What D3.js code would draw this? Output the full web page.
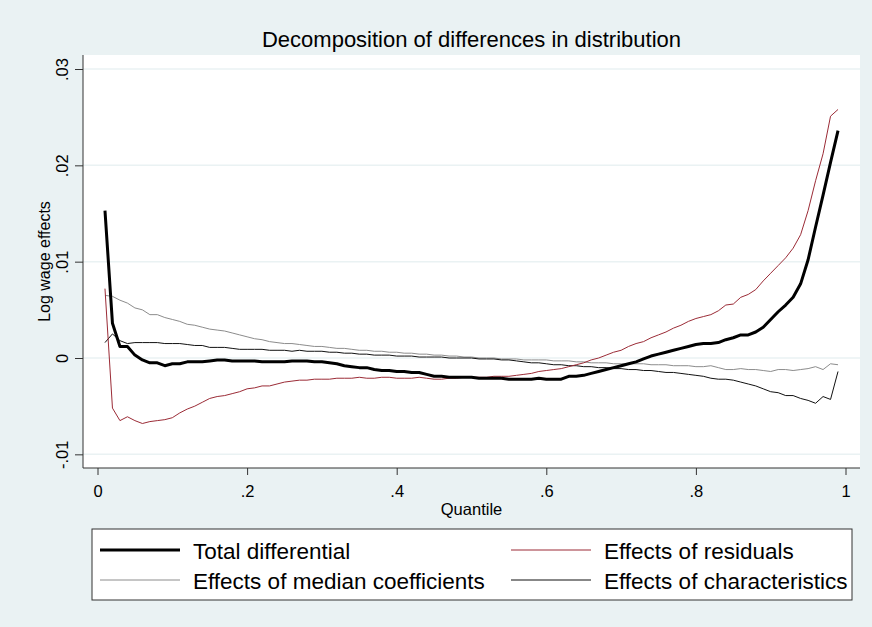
<!DOCTYPE html>
<html>
<head>
<meta charset="utf-8">
<script src="https://cdn.jsdelivr.net/npm/d3@7"></script>
<style>
  body { margin: 0; background: #EAF2F3; }
  text { font-family: Arial, "Liberation Sans", sans-serif; fill: #000; }
</style>
</head>
<body>
<svg id="chart" width="872" height="627"></svg>
<script>
// quantiles .01 ... .99
const quantiles = d3.range(1, 100).map(i => i / 100);

const totalDiff = [
  0.0153, 0.0036, 0.0012, 0.0012, 0.0003, -0.0002, -0.0005, -0.0005, -0.0008, -0.0006,
  -0.0006, -0.0004, -0.0004, -0.0004, -0.0003, -0.0002, -0.0002, -0.0003, -0.0003, -0.0003,
  -0.0003, -0.0004, -0.0004, -0.0004, -0.0004, -0.0003, -0.0003, -0.0003, -0.0004, -0.0004,
  -0.0005, -0.0006, -0.0008, -0.0009, -0.0010, -0.0010, -0.0012, -0.0013, -0.0013, -0.0014,
  -0.0014, -0.0015, -0.0015, -0.0017, -0.0019, -0.0019, -0.0020, -0.0020, -0.0020, -0.0020,
  -0.0021, -0.0021, -0.0021, -0.0021, -0.0022, -0.0022, -0.0022, -0.0022, -0.0021, -0.0022,
  -0.0022, -0.0022, -0.0019, -0.0019, -0.0018, -0.0016, -0.0014, -0.0012, -0.0010, -0.0008,
  -0.0006, -0.0004, -0.0001, 0.0002, 0.0004, 0.0006, 0.0008, 0.0010, 0.0012, 0.0014,
  0.0015, 0.0015, 0.0016, 0.0019, 0.0021, 0.0024, 0.0024, 0.0027, 0.0032, 0.0040,
  0.0048, 0.0055, 0.0063, 0.0077, 0.0102, 0.0136, 0.0169, 0.0203, 0.0236
];

const residuals = [
  0.0072, -0.0052, -0.0065, -0.0061, -0.0065, -0.0068, -0.0066, -0.0065, -0.0064, -0.0062,
  -0.0057, -0.0053, -0.0050, -0.0046, -0.0042, -0.0040, -0.0039, -0.0037, -0.0035, -0.0032,
  -0.0031, -0.0029, -0.0029, -0.0027, -0.0025, -0.0024, -0.0023, -0.0023, -0.0022, -0.0022,
  -0.0022, -0.0021, -0.0021, -0.0021, -0.0020, -0.0021, -0.0021, -0.0020, -0.0020, -0.0021,
  -0.0021, -0.0021, -0.0020, -0.0021, -0.0022, -0.0022, -0.0021, -0.0021, -0.0020, -0.0020,
  -0.0020, -0.0020, -0.0019, -0.0019, -0.0019, -0.0018, -0.0017, -0.0016, -0.0014, -0.0013,
  -0.0012, -0.0011, -0.0009, -0.0007, -0.0005, -0.0002, 0.0000, 0.0003, 0.0006, 0.0008,
  0.0012, 0.0015, 0.0017, 0.0021, 0.0024, 0.0027, 0.0031, 0.0034, 0.0038, 0.0041,
  0.0043, 0.0045, 0.0049, 0.0055, 0.0056, 0.0063, 0.0066, 0.0071, 0.0080, 0.0088,
  0.0096, 0.0104, 0.0114, 0.0128, 0.0153, 0.0184, 0.0212, 0.0251, 0.0258
];

const medianCoef = [
  0.0065, 0.0064, 0.0060, 0.0057, 0.0052, 0.0050, 0.0045, 0.0045, 0.0042, 0.0040,
  0.0038, 0.0035, 0.0034, 0.0032, 0.0030, 0.0029, 0.0028, 0.0026, 0.0024, 0.0022,
  0.0020, 0.0019, 0.0017, 0.0016, 0.0015, 0.0015, 0.0014, 0.0013, 0.0012, 0.0012,
  0.0011, 0.0010, 0.0010, 0.0009, 0.0008, 0.0008, 0.0007, 0.0007, 0.0006, 0.0006,
  0.0005, 0.0005, 0.0004, 0.0004, 0.0003, 0.0003, 0.0002, 0.0002, 0.0001, 0.0001,
  0.0000, 0.0000, 0.0000, -0.0001, -0.0001, -0.0001, -0.0002, -0.0002, -0.0002, -0.0002,
  -0.0003, -0.0003, -0.0003, -0.0004, -0.0004, -0.0005, -0.0005, -0.0005, -0.0006, -0.0006,
  -0.0006, -0.0006, -0.0006, -0.0007, -0.0007, -0.0007, -0.0008, -0.0008, -0.0008, -0.0009,
  -0.0009, -0.0008, -0.0010, -0.0012, -0.0012, -0.0011, -0.0012, -0.0012, -0.0013, -0.0014,
  -0.0012, -0.0012, -0.0013, -0.0012, -0.0011, -0.0009, -0.0012, -0.0006, -0.0007
];

const characteristics = [
  0.0016, 0.0025, 0.0018, 0.0015, 0.0016, 0.0016, 0.0016, 0.0016, 0.0015, 0.0015,
  0.0015, 0.0014, 0.0013, 0.0013, 0.0011, 0.0011, 0.0011, 0.0010, 0.0009, 0.0009,
  0.0009, 0.0009, 0.0008, 0.0008, 0.0008, 0.0007, 0.0008, 0.0007, 0.0007, 0.0007,
  0.0006, 0.0006, 0.0005, 0.0005, 0.0004, 0.0004, 0.0003, 0.0003, 0.0003, 0.0002,
  0.0002, 0.0002, 0.0001, 0.0001, 0.0001, 0.0001, 0.0000, 0.0000, 0.0000, 0.0000,
  -0.0001, -0.0001, -0.0001, -0.0002, -0.0002, -0.0003, -0.0004, -0.0005, -0.0005, -0.0006,
  -0.0007, -0.0007, -0.0008, -0.0008, -0.0009, -0.0009, -0.0010, -0.0010, -0.0011, -0.0011,
  -0.0012, -0.0012, -0.0013, -0.0013, -0.0014, -0.0015, -0.0015, -0.0016, -0.0017, -0.0018,
  -0.0019, -0.0021, -0.0022, -0.0022, -0.0023, -0.0025, -0.0027, -0.0029, -0.0032, -0.0035,
  -0.0036, -0.0039, -0.0039, -0.0042, -0.0044, -0.0047, -0.0040, -0.0043, -0.0014
];

const xTicks = [0, 0.2, 0.4, 0.6, 0.8, 1];
const yTicks = [-0.01, 0, 0.01, 0.02, 0.03];
const yTickLabels = ["-.01", "0", ".01", ".02", ".03"];
const xTickLabels = ["0", ".2", ".4", ".6", ".8", "1"];

const series = [
  { name: "Total differential", values: totalDiff, color: "#000000", width: 3 },
  { name: "Effects of residuals", values: residuals, color: "#9B2B36", width: 1 },
  { name: "Effects of median coefficients", values: medianCoef, color: "#8C8C8C", width: 1 },
  { name: "Effects of characteristics", values: characteristics, color: "#111111", width: 1 }
];

const svg = d3.select("#chart");
const W = 872, H = 627;
const plot = { left: 83, top: 55, right: 860, bottom: 468 };

svg.append("rect").attr("width", W).attr("height", H).attr("fill", "#EAF2F3");
svg.append("rect")
  .attr("x", plot.left).attr("y", plot.top)
  .attr("width", plot.right - plot.left).attr("height", plot.bottom - plot.top)
  .attr("fill", "#fff");

const x = d3.scaleLinear().domain([0, 1]).range([97.5, 845.5]);
const y = d3.scaleLinear().domain([0, 0.03]).range([358, 69]);

// gridlines
svg.append("g")
  .selectAll("line")
  .data(yTicks)
  .join("line")
    .attr("x1", plot.left).attr("x2", plot.right)
    .attr("y1", d => y(d)).attr("y2", d => y(d))
    .attr("stroke", "#EAF2F3").attr("stroke-width", 1.5);

// y axis, labels turned like stata does
const yAxis = svg.append("g")
  .attr("transform", `translate(${plot.left},0)`)
  .call(d3.axisLeft(y).tickValues(yTicks).tickSize(8)
    .tickFormat((d, i) => yTickLabels[i]));
yAxis.select(".domain").attr("d", `M0,${plot.top}V${plot.bottom}`).attr("stroke", "#333");
yAxis.selectAll(".tick line").attr("stroke", "#333");
yAxis.selectAll(".tick text")
  .attr("font-size", 16.5)
  .attr("transform", "rotate(-90)")
  .attr("x", 0).attr("y", -15)
  .attr("dy", 0)
  .attr("text-anchor", "middle")
  .attr("fill", "#000");

// x axis
const xAxis = svg.append("g")
  .attr("transform", `translate(0,${plot.bottom})`)
  .call(d3.axisBottom(x).tickValues(xTicks).tickSize(7)
    .tickFormat((d, i) => xTickLabels[i]));
xAxis.select(".domain").attr("d", `M${plot.left},0H${plot.right}`).attr("stroke", "#333");
xAxis.selectAll(".tick line").attr("stroke", "#333");
xAxis.selectAll(".tick text")
  .attr("font-size", 16.5).attr("fill", "#000")
  .attr("y", 29).attr("dy", 0);

// axis titles
svg.append("text")
  .attr("x", (plot.left + plot.right) / 2).attr("y", 515)
  .attr("text-anchor", "middle").attr("font-size", 16.5)
  .text("Quantile");
svg.append("text")
  .attr("transform", `translate(50,${(plot.top + plot.bottom) / 2}) rotate(-90)`)
  .attr("text-anchor", "middle").attr("font-size", 16)
  .text("Log wage effects");

// title
svg.append("text")
  .attr("x", (plot.left + plot.right) / 2).attr("y", 47)
  .attr("text-anchor", "middle").attr("font-size", 22)
  .text("Decomposition of differences in distribution");

// lines
const line = d3.line().x((d, i) => x(quantiles[i])).y(d => y(d));
const drawOrder = [series[2], series[3], series[1], series[0]];
svg.append("g")
  .selectAll("path")
  .data(drawOrder)
  .join("path")
    .attr("d", d => line(d.values))
    .attr("fill", "none")
    .attr("stroke", d => d.color)
    .attr("stroke-width", d => d.width)
    .attr("stroke-linejoin", "round");

// legend
const legend = svg.append("g");
legend.append("rect")
  .attr("x", 92).attr("y", 529).attr("width", 760).attr("height", 71)
  .attr("fill", "#fff").attr("stroke", "#333").attr("stroke-width", 1);

const legendPos = [
  { s: series[0], lx: 100, ty: 550 },
  { s: series[1], lx: 511, ty: 550 },
  { s: series[2], lx: 100, ty: 580 },
  { s: series[3], lx: 511, ty: 580 }
];
const items = legend.selectAll("g.item").data(legendPos).join("g").attr("class", "item");
items.append("line")
  .attr("x1", d => d.lx).attr("x2", d => d.lx + 80)
  .attr("y1", d => d.ty).attr("y2", d => d.ty)
  .attr("stroke", d => d.s.color).attr("stroke-width", d => d.s.width);
items.append("text")
  .attr("x", d => d.lx + 93).attr("y", d => d.ty + 9)
  .attr("font-size", 22.5)
  .text(d => d.s.name);
</script>
</body>
</html>
